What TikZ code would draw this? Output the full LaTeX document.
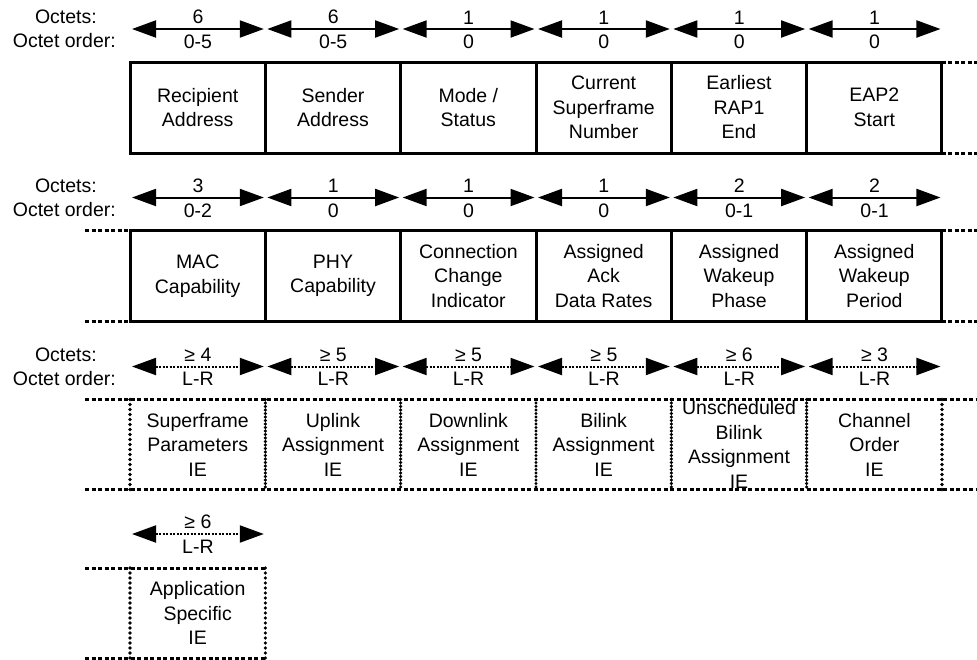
\documentclass[tikz,border=0pt]{standalone}
\usepackage{fontspec}
\setmainfont{Liberation Sans}
\usetikzlibrary{arrows.meta,positioning}
\newcommand{\fieldfont}{\fontsize{19.5}{24.5}\selectfont}

\begin{document}
\begin{tikzpicture}[x=1pt,y=-1pt,node distance=135.33pt,
    every node/.style={font=\fieldfont},
    field/.style={draw,line width=3pt,minimum width=135.33pt,minimum height=91pt,inner sep=0pt,outer sep=0pt,align=center},
    iefield/.style={minimum width=135.33pt,minimum height=90pt,inner sep=0pt,outer sep=0pt,align=center},
    octspan/.style={{Triangle[length=24pt,width=17pt]}-{Triangle[length=24pt,width=17pt]},line width=2pt},
    optspan/.style={octspan,dash pattern=on 2pt off 1.5pt},
    numlbl/.style={above,inner sep=4pt},
    ordlbl/.style={below,inner sep=5pt},
    octlbl/.style={anchor=east,inner sep=0pt},
    hdash/.style={line width=3pt,dash pattern=on 4pt off 2.5pt},
    vdot/.style={line width=3.6pt,line cap=round,dash pattern=on 0pt off 5pt},
    vdotin/.style={line width=3.4pt,line cap=round,dash pattern=on 0pt off 3.5pt}]
    \useasboundingbox (0,0) rectangle (977,659);

    % first row of fields
    \node[field] (rcpt) at (197.67,107.5) {Recipient\\Address};
    \node[field] (sndr) [right of=rcpt] {Sender\\Address};
    \node[field] (mode) [right of=sndr] {Mode /\\Status};
    \node[field] (csn) [right of=mode] {Current\\Superframe\\Number};
    \node[field] (rap) [right of=csn] {Earliest\\RAP1\\End};
    \node[field] (eap) [right of=rap] {EAP2\\Start};

    % second row
    \node[field] (mac) [below of=rcpt,node distance=168.5pt] {MAC\\Capability};
    \node[field] (phy) [right of=mac] {PHY\\Capability};
    \node[field] (cci) [right of=phy] {Connection\\Change\\Indicator};
    \node[field] (ack) [right of=cci] {Assigned\\Ack\\Data Rates};
    \node[field] (wph) [right of=ack] {Assigned\\Wakeup\\Phase};
    \node[field] (wpr) [right of=wph] {Assigned\\Wakeup\\Period};

    % optional IEs
    \node[iefield] (sfp) [below of=mac,node distance=168.5pt] {Superframe\\Parameters\\IE};
    \node[iefield] (ula) [right of=sfp] {Uplink\\Assignment\\IE};
    \node[iefield] (dla) [right of=ula] {Downlink\\Assignment\\IE};
    \node[iefield] (bla) [right of=dla] {Bilink\\Assignment\\IE};
    \node[iefield] (uba) [right of=bla] {Unscheduled\\Bilink\\Assignment\\IE};
    \node[iefield] (cho) [right of=uba] {Channel\\Order\\IE};
    \node[iefield] (asp) [below of=sfp,node distance=168.5pt] {Application\\Specific\\IE};

    % row headings
    \node[octlbl] (oct1) at ([xshift=-33pt,yshift=45pt]rcpt.north west) {Octets:};
    \node[octlbl] (ord1) at ([xshift=-14pt,yshift=21pt]rcpt.north west) {Octet order:};
    \node[octlbl] (oct2) at ([xshift=-33pt,yshift=45pt]mac.north west) {Octets:};
    \node[octlbl] (ord2) at ([xshift=-14pt,yshift=21pt]mac.north west) {Octet order:};
    \node[octlbl] (oct3) at ([xshift=-33pt,yshift=45pt]sfp.north west) {Octets:};
    \node[octlbl] (ord3) at ([xshift=-14pt,yshift=21pt]sfp.north west) {Octet order:};

    % octet spans
    \path[octspan]
        ([xshift=2pt,yshift=33pt]rcpt.north west) edge node[numlbl]{6} node[ordlbl]{0-5} ([xshift=-1.5pt,yshift=33pt]rcpt.north east)
        ([xshift=2pt,yshift=33pt]sndr.north west) edge node[numlbl]{6} node[ordlbl]{0-5} ([xshift=-1.5pt,yshift=33pt]sndr.north east)
        ([xshift=2pt,yshift=33pt]mode.north west) edge node[numlbl]{1} node[ordlbl]{0} ([xshift=-1.5pt,yshift=33pt]mode.north east)
        ([xshift=2pt,yshift=33pt]csn.north west) edge node[numlbl]{1} node[ordlbl]{0} ([xshift=-1.5pt,yshift=33pt]csn.north east)
        ([xshift=2pt,yshift=33pt]rap.north west) edge node[numlbl]{1} node[ordlbl]{0} ([xshift=-1.5pt,yshift=33pt]rap.north east)
        ([xshift=2pt,yshift=33pt]eap.north west) edge node[numlbl]{1} node[ordlbl]{0} ([xshift=-1.5pt,yshift=33pt]eap.north east)
        ([xshift=2pt,yshift=33pt]mac.north west) edge node[numlbl]{3} node[ordlbl]{0-2} ([xshift=-1.5pt,yshift=33pt]mac.north east)
        ([xshift=2pt,yshift=33pt]phy.north west) edge node[numlbl]{1} node[ordlbl]{0} ([xshift=-1.5pt,yshift=33pt]phy.north east)
        ([xshift=2pt,yshift=33pt]cci.north west) edge node[numlbl]{1} node[ordlbl]{0} ([xshift=-1.5pt,yshift=33pt]cci.north east)
        ([xshift=2pt,yshift=33pt]ack.north west) edge node[numlbl]{1} node[ordlbl]{0} ([xshift=-1.5pt,yshift=33pt]ack.north east)
        ([xshift=2pt,yshift=33pt]wph.north west) edge node[numlbl]{2} node[ordlbl]{0-1} ([xshift=-1.5pt,yshift=33pt]wph.north east)
        ([xshift=2pt,yshift=33pt]wpr.north west) edge node[numlbl]{2} node[ordlbl]{0-1} ([xshift=-1.5pt,yshift=33pt]wpr.north east)
    ;
    \path[optspan]
        ([xshift=2pt,yshift=33pt]sfp.north west) edge node[numlbl]{≥ 4} node[ordlbl]{L-R} ([xshift=-1.5pt,yshift=33pt]sfp.north east)
        ([xshift=2pt,yshift=33pt]ula.north west) edge node[numlbl]{≥ 5} node[ordlbl]{L-R} ([xshift=-1.5pt,yshift=33pt]ula.north east)
        ([xshift=2pt,yshift=33pt]dla.north west) edge node[numlbl]{≥ 5} node[ordlbl]{L-R} ([xshift=-1.5pt,yshift=33pt]dla.north east)
        ([xshift=2pt,yshift=33pt]bla.north west) edge node[numlbl]{≥ 5} node[ordlbl]{L-R} ([xshift=-1.5pt,yshift=33pt]bla.north east)
        ([xshift=2pt,yshift=33pt]uba.north west) edge node[numlbl]{≥ 6} node[ordlbl]{L-R} ([xshift=-1.5pt,yshift=33pt]uba.north east)
        ([xshift=2pt,yshift=33pt]cho.north west) edge node[numlbl]{≥ 3} node[ordlbl]{L-R} ([xshift=-1.5pt,yshift=33pt]cho.north east)
        ([xshift=2pt,yshift=34pt]asp.north west) edge node[numlbl]{≥ 6} node[ordlbl]{L-R} ([xshift=-1.5pt,yshift=34pt]asp.north east)
    ;

    % continuation marks
    \draw[hdash] (eap.north east) -- ++(35,0);
    \draw[hdash] (eap.south east) -- ++(35,0);
    \draw[hdash] ([xshift=-45pt]mac.north west) -- (mac.north west);
    \draw[hdash] ([xshift=-45pt]mac.south west) -- (mac.south west);
    \draw[hdash] (wpr.north east) -- ++(35,0);
    \draw[hdash] (wpr.south east) -- ++(35,0);

    % dashed outlines of the IEs
    \draw[hdash] ([xshift=-45pt]sfp.north west) -- ([xshift=35pt]cho.north east);
    \draw[hdash] ([xshift=-45pt]sfp.south west) -- ([xshift=35pt]cho.south east);
    \draw[vdot] (sfp.north west) -- (sfp.south west);
    \draw[vdotin] (sfp.north east) -- (sfp.south east);
    \draw[vdotin] (ula.north east) -- (ula.south east);
    \draw[vdotin] (dla.north east) -- (dla.south east);
    \draw[vdotin] (bla.north east) -- (bla.south east);
    \draw[vdotin] (uba.north east) -- (uba.south east);
    \draw[vdot] (cho.north east) -- (cho.south east);
    \draw[hdash] ([xshift=-45pt]asp.north west) -- (asp.north east);
    \draw[hdash] ([xshift=-45pt]asp.south west) -- (asp.south east);
    \draw[vdot] (asp.north west) -- (asp.south west);
    \draw[vdot] (asp.north east) -- (asp.south east);

\end{tikzpicture}
\end{document}
